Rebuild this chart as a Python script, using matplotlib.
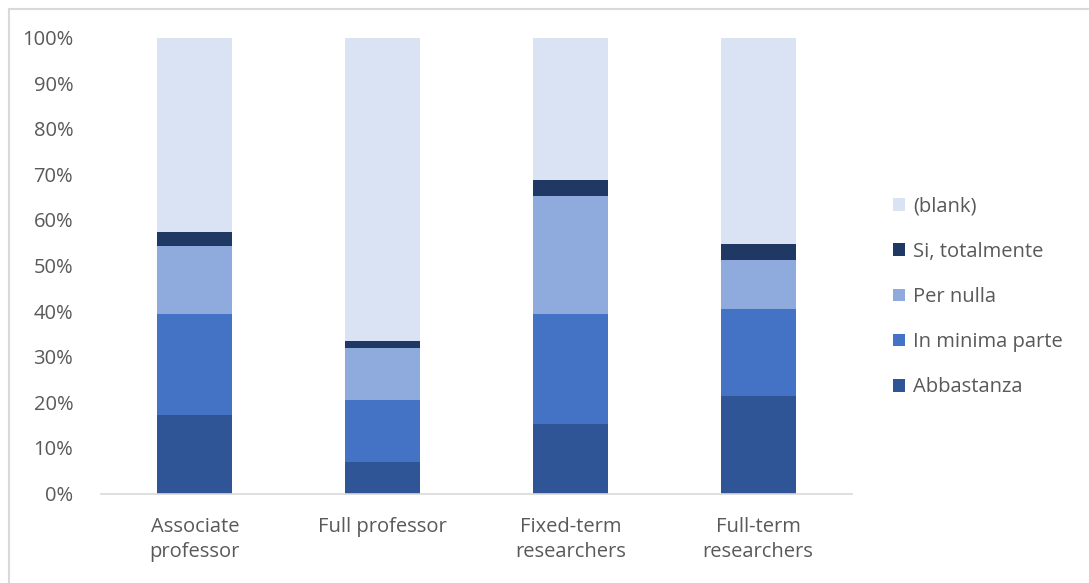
import matplotlib.pyplot as plt
from matplotlib.patches import Rectangle
from matplotlib.ticker import PercentFormatter

plt.rcParams['font.family'] = ['Open Sans', 'DejaVu Sans']

roles = ["Associate\nprofessor", "Full professor", "Fixed-term\nresearchers", "Full-term\nresearchers"]

# shares in percent, bottom to top
abbastanza = [17.2, 6.8, 15.2, 21.4]
in_minima_parte = [22.2, 13.7, 24.2, 19.1]
per_nulla = [14.9, 11.5, 25.9, 10.8]
si_totalmente = [3.1, 1.5, 3.4, 3.4]
blank = [42.6, 66.5, 31.3, 45.3]

series = [
    ("Abbastanza", abbastanza, "#2F5597"),
    ("In minima parte", in_minima_parte, "#4472C4"),
    ("Per nulla", per_nulla, "#8FAADC"),
    ("Si, totalmente", si_totalmente, "#1F3864"),
    ("(blank)", blank, "#DAE3F3"),
]

fig = plt.figure(figsize=(10.89, 5.83), dpi=100)
ax = fig.add_axes([101 / 1089, 1 - 493.5 / 583, 751 / 1089, 456 / 583])

x = range(len(roles))
bottom = [0] * len(roles)
for name, vals, color in series:
    ax.bar(x, vals, width=0.4, bottom=bottom, color=color, label=name)
    bottom = [b + v for b, v in zip(bottom, vals)]

ax.set_xlim(-0.5, len(roles) - 0.5)
ax.set_ylim(0, 100)
ax.set_yticks(range(0, 101, 10))
ax.yaxis.set_major_formatter(PercentFormatter(decimals=0))
ax.set_xticks(list(x))
ax.set_xticklabels(roles, linespacing=1.3)

for side in ["top", "right", "left"]:
    ax.spines[side].set_visible(False)
ax.spines["bottom"].set_color("#D9D9D9")
ax.spines["bottom"].set_linewidth(1.2)
ax.tick_params(axis="both", length=0, colors="#595959", labelsize=14.5)
ax.tick_params(axis="y", pad=20)
ax.tick_params(axis="x", pad=17)

handles, labels = ax.get_legend_handles_labels()
leg = fig.legend(handles[::-1], labels[::-1], loc="center left",
                 bbox_to_anchor=(875 / 1089, 1 - 297 / 583), frameon=False,
                 fontsize=14.5, labelspacing=1.25, handlelength=0.6,
                 handleheight=0.6, handletextpad=0.4, labelcolor="#595959")

# outer chart frame
fig.patches.append(Rectangle((8.5 / 1089, -0.1), 1.2, 1 - 8.5 / 583 + 0.1,
                             transform=fig.transFigure, fill=False,
                             edgecolor="#D9D9D9", linewidth=1.5))

fig.savefig("out.png", dpi=100)
